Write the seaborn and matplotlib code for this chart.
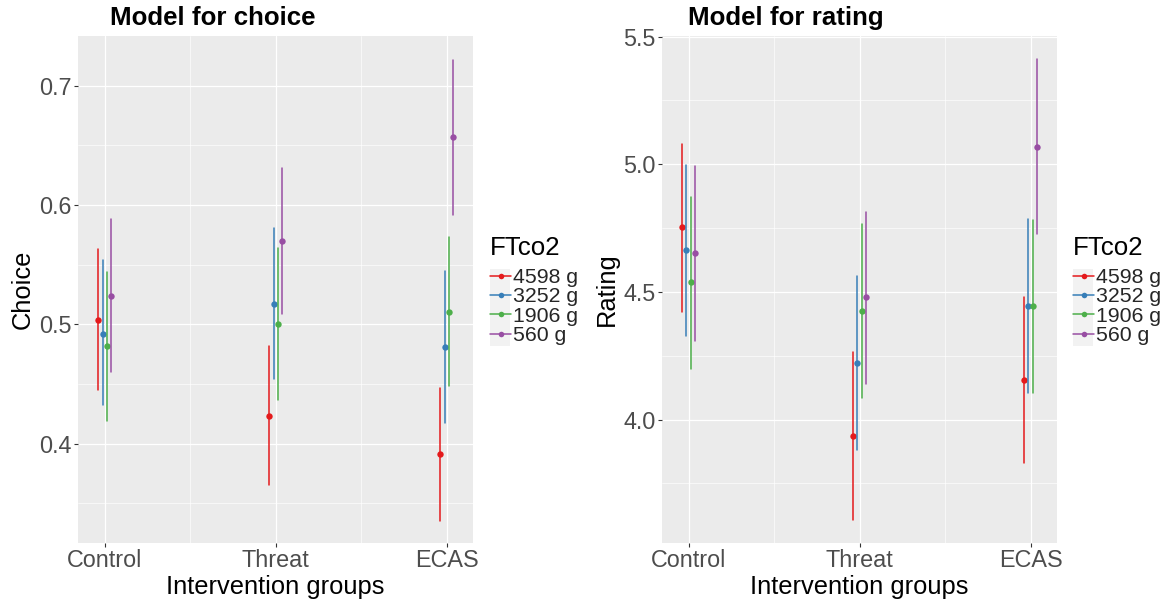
import numpy as np
import pandas as pd
import matplotlib
matplotlib.use("Agg")
import matplotlib.pyplot as plt
from matplotlib.lines import Line2D
from matplotlib.patches import Rectangle
from matplotlib.ticker import FixedLocator, FixedFormatter
import seaborn as sns

# ---------------- data ----------------
groups = ["Control", "Threat", "ECAS"]
levels = ["4598 g", "3252 g", "1906 g", "560 g"]

# rows = FTco2 level, columns = group
choice_est = [[0.504, 0.423, 0.391],
              [0.492, 0.517, 0.481],
              [0.482, 0.500, 0.510],
              [0.524, 0.570, 0.657]]
choice_lo = [[0.445, 0.365, 0.335],
             [0.432, 0.454, 0.417],
             [0.419, 0.437, 0.448],
             [0.460, 0.509, 0.592]]
choice_hi = [[0.563, 0.482, 0.447],
             [0.554, 0.581, 0.545],
             [0.544, 0.564, 0.573],
             [0.588, 0.631, 0.722]]

rating_est = [[4.753, 3.935, 4.155],
              [4.663, 4.221, 4.444],
              [4.537, 4.426, 4.444],
              [4.651, 4.479, 5.069]]
rating_lo = [[4.423, 3.607, 3.829],
             [4.328, 3.881, 4.103],
             [4.200, 4.084, 4.106],
             [4.309, 4.140, 4.727]]
rating_hi = [[5.080, 4.266, 4.482],
             [4.997, 4.563, 4.786],
             [4.873, 4.764, 4.782],
             [4.993, 4.813, 5.411]]

choice_ticks = [0.4, 0.5, 0.6, 0.7]
choice_ticklabels = ["0.4", "0.5", "0.6", "0.7"]
rating_ticks = [4.0, 4.5, 5.0, 5.5]
rating_ticklabels = ["4.0", "4.5", "5.0", "5.5"]


def long_frame(est, lo, hi):
    rows = []
    for i, lev in enumerate(levels):
        for j, g in enumerate(groups):
            for v in (lo[i][j], est[i][j], hi[i][j]):
                rows.append({"group": g, "FTco2": lev, "value": v})
    return pd.DataFrame(rows)


choice_df = long_frame(choice_est, choice_lo, choice_hi)
rating_df = long_frame(rating_est, rating_lo, rating_hi)

# ---------------- style ----------------
sns.set_theme(style="white")
plt.rcParams["font.family"] = ["Liberation Sans", "DejaVu Sans"]

pal = sns.color_palette("Set1", 4)

W, H = 1170, 606
fig = plt.figure(figsize=(W / 100, H / 100), dpi=100)


def px_axes(x0, x1, y0, y1):
    return fig.add_axes([x0 / W, 1 - y1 / H, (x1 - x0) / W, (y1 - y0) / H])


ax1 = px_axes(78, 473, 36, 542.7)
ax2 = px_axes(661.7, 1056.7, 36, 542.7)


def draw(ax, df, ylim, ticks, ticklabels, minor, ylabel, title, title_x, leg_x):
    ax.set_facecolor("#EBEBEB")
    sns.pointplot(data=df, x="group", y="value", hue="FTco2",
                  order=groups, hue_order=levels, palette=pal,
                  estimator="median", errorbar=("pi", 100),
                  dodge=0.076, linestyle="none", markers="o",
                  markersize=4.6, markeredgewidth=0,
                  err_kws={"linewidth": 1.1},
                  legend=False, ax=ax)
    ax.set_xlim(-0.157, 2.153)
    ax.set_ylim(*ylim)
    ax.yaxis.set_major_locator(FixedLocator(ticks))
    ax.yaxis.set_major_formatter(FixedFormatter(ticklabels))
    ax.yaxis.set_minor_locator(FixedLocator(minor))
    ax.xaxis.set_minor_locator(FixedLocator([0.5, 1.5]))
    ax.grid(True, which="major", color="white", linewidth=0.9)
    ax.grid(True, which="minor", color="white", linewidth=0.45)
    ax.set_axisbelow(True)
    for s in ax.spines.values():
        s.set_visible(False)
    ax.tick_params(which="major", length=3, width=0.8, color="#333333",
                   labelcolor="#4D4D4D", labelsize=16.8, pad=1.5,
                   bottom=True, left=True)
    ax.tick_params(which="minor", length=0)
    ax.set_xlabel("Intervention groups", fontsize=18.4, color="black")
    ax.xaxis.set_label_coords(0.5, -0.087)
    ax.xaxis.label.set_va("center")
    ax.set_ylabel(ylabel, fontsize=18.4, color="black")
    ax.yaxis.set_label_coords(-0.14, 0.5)
    ax.yaxis.label.set_va("center")
    ax.text(title_x, 1.0355, title, transform=ax.transAxes, fontsize=18.6,
            fontweight="bold", ha="left", va="center", color="black")

    # legend title, key background and entries
    fig.text(leg_x / W, 1 - 248 / H, "FTco2", fontsize=18.6, ha="left",
             va="center", color="black")
    fig.patches.append(Rectangle((leg_x / W, 1 - 346 / H), 20 / W, 77 / H,
                                 transform=fig.transFigure,
                                 facecolor="#F2F2F2", edgecolor="none",
                                 zorder=-1))
    handles = [Line2D([0], [0], color=c, marker="o", markersize=4,
                      markeredgewidth=0, linewidth=1.1) for c in pal]
    ax.legend(handles, levels, loc="upper left",
              bbox_to_anchor=(leg_x / W, 1 - 268 / H),
              bbox_transform=fig.transFigure,
              frameon=False, fontsize=15.3,
              handlelength=1.0, handletextpad=0.1, labelspacing=0.015,
              borderpad=0, borderaxespad=0)


draw(ax1, choice_df, (0.317, 0.7417), choice_ticks, choice_ticklabels,
     [0.35, 0.45, 0.55, 0.65], "Choice", "Model for choice", 0.081, 490)
draw(ax2, rating_df, (3.518, 5.502), rating_ticks, rating_ticklabels,
     [3.75, 4.25, 4.75, 5.25], "Rating", "Model for rating", 0.066, 1073)

fig.savefig("out.png", dpi=100, facecolor="white")
